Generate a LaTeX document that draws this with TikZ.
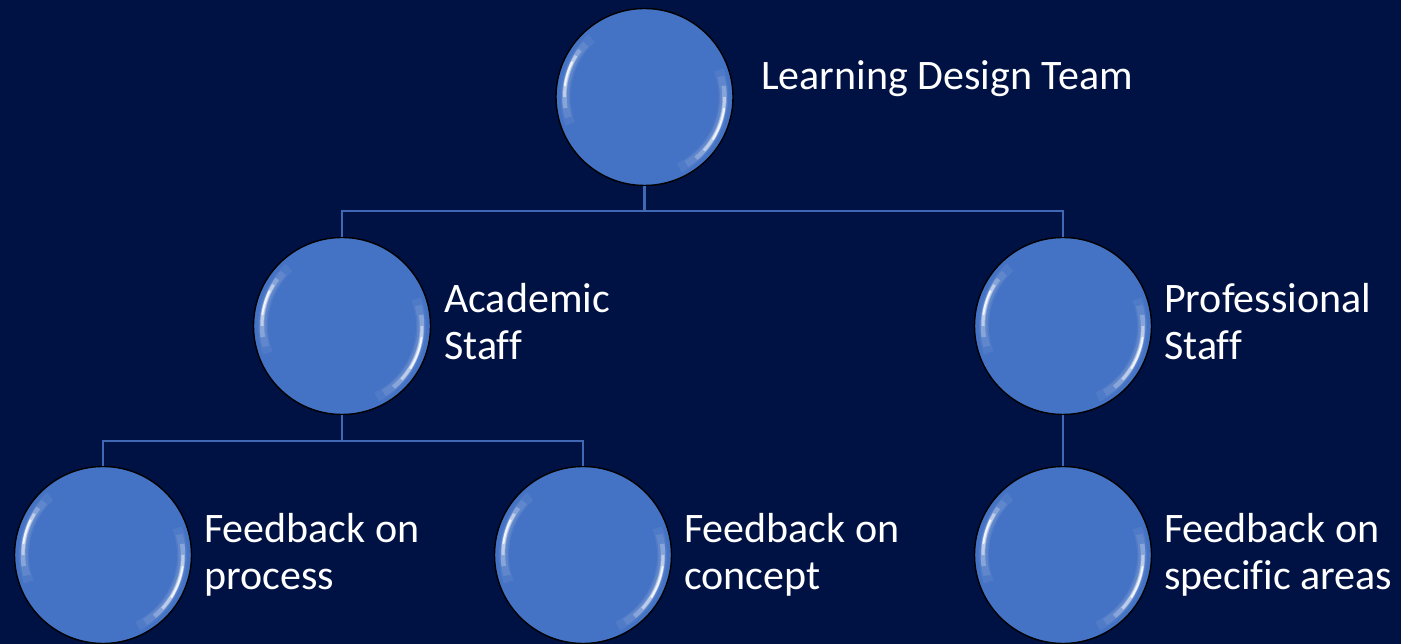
\documentclass[tikz,border=0pt]{standalone}
\usepackage{fontspec}
\setmainfont{Carlito}[Ligatures=NoCommon]
\definecolor{bg}{HTML}{001244}
\definecolor{bblue}{HTML}{4472C4}
\definecolor{conncol}{HTML}{4068B4}
\pgfdeclareradialshading{bubble}{\pgfpoint{0bp}{0bp}}{%
  color(0bp)=(bblue); color(42bp)=(bblue); color(46bp)=(bblue!70!white);
  color(48.5bp)=(bblue!40!white); color(50bp)=(bblue!28!white)}
\tikzset{
  bubblenode/.style={circle, minimum size=177pt, inner sep=0pt, draw=black, line width=1.4pt, shading=bubble},
  conn/.style={draw=conncol, line width=2.6pt},
  lbl/.style={text=white, font=\fontsize{42}{47}\selectfont, align=left, inner sep=0pt, anchor=base west},
  glow/.style={white, line cap=butt}
}
\begin{document}
\begin{tikzpicture}[x=1pt,y=1pt]
\fill[bg] (0,0) rectangle (1401,644);
\useasboundingbox (0,0) rectangle (1401,644);
% circles
\node[bubblenode] (T) at (644.5,547) {};
\node[bubblenode] (A) at (342,318) {};
\node[bubblenode] (P) at (1063,318) {};
\node[bubblenode] (F1) at (103,89) {};
\node[bubblenode] (F2) at (583,89) {};
\node[bubblenode] (F3) at (1063,89) {};
% highlights
\foreach \n in {T,A,P,F1,F2,F3}{
  \draw[glow, line width=10pt, opacity=0.06] ([shift={(132:79)}]\n.center) arc(132:200:79);
  \draw[glow, line width=7pt, opacity=0.1] ([shift={(138:79)}]\n.center) arc(138:195:79);
  \draw[glow, line width=4.5pt, opacity=0.25] ([shift={(144:80)}]\n.center) arc(144:188:80);
  \draw[glow, line width=3pt, opacity=0.45] ([shift={(149:80)}]\n.center) arc(149:180:80);
  \draw[glow, line width=2pt, opacity=0.8] ([shift={(154:80.5)}]\n.center) arc(154:172:80.5);
  \draw[glow, line width=10pt, opacity=0.06] ([shift={(20:79)}]\n.center) arc(20:-64:79);
  \draw[glow, line width=7pt, opacity=0.1] ([shift={(15:79)}]\n.center) arc(15:-58:79);
  \draw[glow, line width=4.5pt, opacity=0.25] ([shift={(8:80)}]\n.center) arc(8:-50:80);
  \draw[glow, line width=3pt, opacity=0.45] ([shift={(0:80)}]\n.center) arc(0:-42:80);
  \draw[glow, line width=2pt, opacity=0.8] ([shift={(-8:80.5)}]\n.center) arc(-8:-32:80.5);
}
% connectors
\coordinate (tj) at (644.5,433);
\coordinate (aj) at (342,203);
\draw[conn] (T.south) -- (tj) -| (A.north);
\draw[conn] (tj) -| (P.north);
\draw[conn] (A.south) -- (aj) -| (F1.north);
\draw[conn] (aj) -| (F2.north);
\draw[conn] (P.south) -- (F3.north);
% labels (anchored at the baseline of the last line)
\node[lbl] (lT) at (761,554) {Learning Design Team};
\node[lbl] (lA) at (444,284) {Academic\\Staff};
\node[lbl] (lP) at (1164,284) {Professional\\Staff};
\node[lbl] (l1) at (204,54) {Feedback on\\process};
\node[lbl] (l2) at (684,54) {Feedback on\\concept};
\node[lbl] (l3) at (1164,54) {Feedback on\\specific areas};
\end{tikzpicture}
\end{document}
